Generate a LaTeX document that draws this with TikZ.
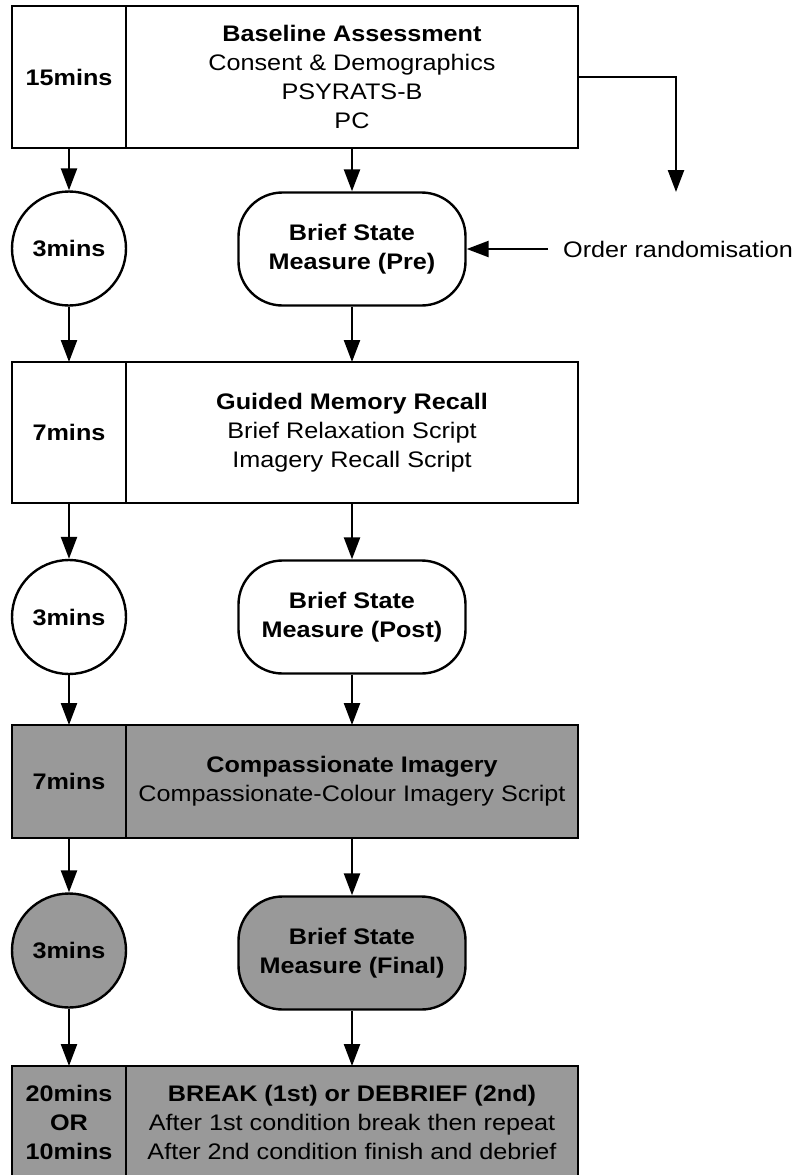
\documentclass[tikz,border=0pt]{standalone}
\usepackage{fontspec}
\setmainfont{Liberation Sans}[FakeStretch=1.12]
\usetikzlibrary{arrows.meta, positioning}
\usepackage{xcolor}
\def\boxgrey{black!40}

\begin{document}
\begin{tikzpicture}[x=1pt,y=-1pt,line width=2.4pt,font=\fontsize{22.5pt}{29pt}\selectfont]
    \tikzstyle{flow}=[-{Triangle[length=22pt,width=16pt]}]
    \tikzstyle{timebox}=[rectangle,draw,outer sep=0pt,minimum width=114pt,inner sep=0pt,align=center,font=\fontsize{22.5pt}{29pt}\selectfont\bfseries]
    \tikzstyle{stagebox}=[rectangle,draw,outer sep=0pt,minimum width=452pt,inner sep=0pt,align=center,anchor=west]
    \tikzstyle{timer}=[circle,draw,minimum size=114pt,inner sep=0pt,font=\fontsize{22.5pt}{29pt}\selectfont\bfseries]
    \tikzstyle{measure}=[rectangle,draw,rounded corners=44pt,minimum width=227pt,minimum height=113pt,inner sep=0pt,align=center,font=\fontsize{22.5pt}{29pt}\selectfont\bfseries]
    \tikzstyle{grey}=[fill=\boxgrey]

    \useasboundingbox (0,0) rectangle (794,1175);

	\node[timebox, minimum height=142pt] (T1) at (69,77) {15mins};
	\node[stagebox, minimum height=142pt] (B1) at (T1.east) {\textbf{Baseline Assessment}\\Consent \& Demographics\\PSYRATS-B\\PC};

	\node[timer] (C1) at (69,248.5) {3mins};
	\node[measure] (M1) at (352,249) {Brief State\\Measure (Pre)};

	\node[timebox, minimum height=141pt] (T2) at (69,432.5) {7mins};
	\node[stagebox, minimum height=141pt] (B2) at (T2.east) {\textbf{Guided Memory Recall}\\Brief Relaxation Script\\Imagery Recall Script};

	\node[timer] (C2) at (69,617) {3mins};
	\node[measure] (M2) at (352,617) {Brief State\\Measure (Post)};

	\node[timebox, grey, minimum height=113pt] (T3) at (69,781.5) {7mins};
	\node[stagebox, grey, minimum height=113pt] (B3) at (T3.east) {\textbf{Compassionate Imagery}\\Compassionate-Colour Imagery Script};

	\node[timer, grey] (C3) at (69,950.5) {3mins};
	\node[measure, grey] (M3) at (352,953) {Brief State\\Measure (Final)};

	\node[timebox, grey, minimum height=112pt] (T4) at (69,1122) {20mins\\OR\\10mins};
	\node[stagebox, grey, minimum height=112pt] (B4) at (T4.east) {\textbf{BREAK (1st) or DEBRIEF (2nd)}\\After 1st condition break then repeat\\After 2nd condition finish and debrief};

	% randomisation branch
	\coordinate (Rand) at (676,192);
	\node[anchor=west, inner xsep=14pt, inner ysep=0pt] (Ord) at (548,249) {Order randomisation};

	\foreach \a/\b in {T1/C1, C1/T2, T2/C2, C2/T3, T3/C3, C3/T4, B1/M1, M1/B2, B2/M2, M2/B3, B3/M3, M3/B4}{
		\draw[flow] (\a) -- (\b);
		}
	\draw[flow] (B1.east) -| (Rand);
	\draw[flow] (Ord) -- (M1);

\end{tikzpicture}
\end{document}
